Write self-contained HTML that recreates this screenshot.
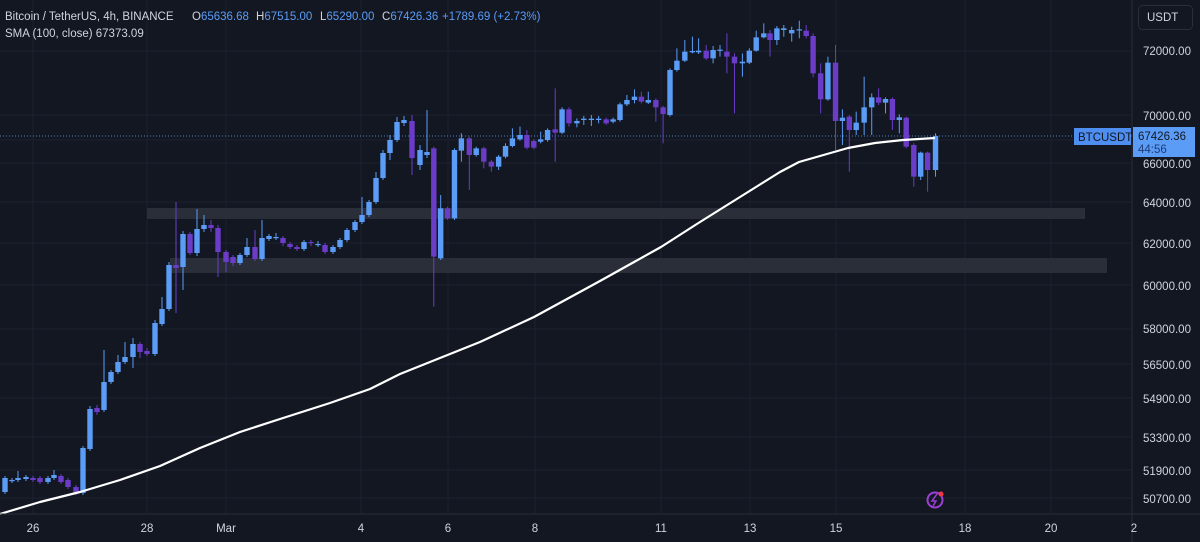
<!DOCTYPE html>
<html><head><meta charset="utf-8"><style>
html,body{margin:0;padding:0;background:#131722;}
body{width:1200px;height:542px;overflow:hidden;position:relative;font-family:"Liberation Sans",sans-serif;}
svg{position:absolute;left:0;top:0;}
</style></head><body>
<svg id="c" width="1200" height="542" xmlns="http://www.w3.org/2000/svg">
<rect width="1200" height="542" fill="#131722"/>
<g id="grid" stroke="#1c2030" stroke-width="1"></g>
<rect x="147" y="208" width="938" height="11" fill="#2a2e39"/>
<rect x="170" y="258" width="937" height="15" fill="#2a2e39"/>
<line x1="0" y1="136" x2="1132" y2="136" stroke="#5b9cf6" stroke-width="1" stroke-dasharray="1,2" opacity="0.8"/>
<g id="candles"></g>
<polyline id="sma" fill="none" stroke="#ffffff" stroke-width="2.2" stroke-linejoin="round"/>
<line x1="1132" y1="0" x2="1132" y2="542" stroke="#2a2e39"/>
<line x1="0" y1="514" x2="1200" y2="514" stroke="#2a2e39"/>
<g font-size="11.5" fill="#d1d4dc">
<text x="1143" y="55">72000.00</text>
<text x="1143" y="120">70000.00</text>
<text x="1143" y="145">68000.00</text>
<text x="1143" y="168">66000.00</text>
<text x="1143" y="207">64000.00</text>
<text x="1143" y="248">62000.00</text>
<text x="1143" y="290">60000.00</text>
<text x="1143" y="333">58000.00</text>
<text x="1143" y="369">56500.00</text>
<text x="1143" y="403">54900.00</text>
<text x="1143" y="442">53300.00</text>
<text x="1143" y="475">51900.00</text>
<text x="1143" y="503">50700.00</text>
</g>
<rect x="1074" y="128" width="57" height="17" fill="#4d8ef0"/>
<text x="1078" y="141" font-size="11.5" fill="#131722">BTCUSDT</text>
<rect x="1133" y="127" width="62" height="30" fill="#5b9cf6"/>
<text x="1138" y="140" font-size="11.5" fill="#131722">67426.36</text>
<text x="1138" y="153" font-size="11.5" fill="#1f3d7a">44:56</text>
<rect x="1138.5" y="5.5" width="54" height="24" rx="4" fill="none" stroke="#2a2e39"/>
<text x="1147" y="21" font-size="11.5" fill="#d1d4dc">USDT</text>
<g font-size="11.5" fill="#d1d4dc" text-anchor="middle">
<text x="33" y="532">26</text><text x="147" y="532">28</text><text x="226" y="532">Mar</text>
<text x="361" y="532">4</text><text x="448" y="532">6</text><text x="535" y="532">8</text>
<text x="661" y="532">11</text><text x="750" y="532">13</text><text x="836" y="532">15</text>
<text x="965" y="532">18</text><text x="1051" y="532">20</text><text x="1134" y="532">2</text>
</g>
<circle cx="935" cy="500" r="7.5" fill="none" stroke="#9c3fd6" stroke-width="2"/>
<path d="M937 494 L932 501 L936 501 L933 506" fill="none" stroke="#9c3fd6" stroke-width="1.5"/>
<circle cx="941" cy="494" r="2.5" fill="#f23645"/>
<g font-size="11.5">
<text x="5" y="20" fill="#d1d4dc">Bitcoin / TetherUS, 4h, BINANCE</text>
<text x="192" y="20" fill="#d1d4dc">O<tspan fill="#5b9cf6">65636.68</tspan></text>
<text x="256" y="20" fill="#d1d4dc">H<tspan fill="#5b9cf6">67515.00</tspan></text>
<text x="320" y="20" fill="#d1d4dc">L<tspan fill="#5b9cf6">65290.00</tspan></text>
<text x="382" y="20" fill="#d1d4dc">C<tspan fill="#5b9cf6">67426.36</tspan></text>
<text x="442" y="20" fill="#5b9cf6">+1789.69 (+2.73%)</text>
<text x="5" y="37" fill="#d1d4dc">SMA (100, close)  67373.09</text>
</g>
</svg>
<script>
var NS="http://www.w3.org/2000/svg";
var g=document.getElementById('grid');
[51,115,140,163,202,243,285,329,364,398,437,470,498].forEach(function(y){var l=document.createElementNS(NS,'line');l.setAttribute('x1',0);l.setAttribute('x2',1132);l.setAttribute('y1',y);l.setAttribute('y2',y);g.appendChild(l);});
[33,147,226,361,448,535,661,750,836,965,1051].forEach(function(x){var l=document.createElementNS(NS,'line');l.setAttribute('x1',x);l.setAttribute('x2',x);l.setAttribute('y1',0);l.setAttribute('y2',514);g.appendChild(l);});
// [x, top, bottom, wickTop, wickBot, up]
var C=[
[5,478,492,476,494,1],[12,480,481,478,483,1],[18,478,480,471,482,1],[26,477,479,475,481,1],[33,478,480,476,482,0],
[40,478,482,476,484,0],[48,478,482,476,484,1],[54,475,478,470,480,1],[61,476,482,474,484,0],[68,480,487,478,489,0],
[76,487,493,485,495,0],[83,448,493,446,495,1],[90,409,449,406,451,1],[97,408,412,405,415,0],[104,382,410,350,412,1],
[111,372,382,370,384,1],[118,362,372,355,374,1],[125,357,362,342,364,1],[133,344,357,338,368,1],[140,344,352,342,358,0],
[147,351,354,348,356,0],[155,323,354,320,356,1],[162,309,324,297,326,1],[169,265,309,262,311,1],[176,265,268,202,313,0],
[183,234,267,231,290,1],[190,234,253,232,255,0],[197,229,253,209,256,1],[204,225,229,215,232,1],[211,225,228,220,232,0],
[218,228,252,225,277,0],[226,252,262,250,272,0],[233,257,263,255,266,0],[240,255,263,253,265,1],[247,247,255,238,257,1],
[255,247,259,230,261,0],[262,238,259,220,261,1],[269,236,239,234,241,1],[276,237,238,233,240,1],[283,238,243,236,246,0],
[290,244,247,242,249,0],[297,247,249,245,251,0],[304,242,249,240,251,1],[311,242,243,240,246,0],[318,244,245,241,247,1],
[325,245,252,243,254,0],[333,247,252,245,254,1],[340,240,247,238,249,1],[347,230,240,228,242,1],[355,222,230,220,232,1],
[362,215,222,197,224,1],[369,202,215,200,217,1],[376,178,202,172,204,1],[383,153,178,150,180,1],[390,140,153,135,160,1],
[397,122,140,117,142,1],[404,120,123,116,126,1],[412,121,158,115,175,0],[420,150,165,145,170,1],[427,152,155,110,158,1]];
var Z=[[40,385,710,380,860,0],[60,565,715,525,720,1],[80,565,595,560,600,0],[100,390,595,385,600,1],[120,355,392,340,425,1],
[143,355,405,350,510,0],[163,385,405,380,410,1],[185,385,425,380,445,0],[207,425,440,420,455,0],[228,410,440,405,450,1],
[248,378,410,370,415,1],[268,355,378,325,382,1],[290,345,358,320,362,1],[310,345,383,330,388,0],[330,363,383,358,388,0],
[350,358,365,335,370,1],[370,330,360,325,365,1],[392,328,338,205,425,0],[412,268,338,262,342,1],[432,268,310,262,320,0],
[455,303,310,295,322,1],[475,296,300,288,315,1],[497,296,300,285,318,1],[518,296,300,288,310,1],[540,298,310,293,315,0],
[560,298,305,293,310,1],[580,253,300,248,305,1],[600,240,253,225,258,1],[622,230,240,208,250,1],[642,230,245,215,250,0],
[662,240,248,215,252,1],[684,240,262,235,305,0],[705,262,282,258,370,0],[725,150,285,145,290,1],[745,122,150,85,155,1],
[768,95,122,60,126,1],[790,93,97,50,100,1],[808,92,97,55,102,1],[830,92,115,75,120,0],[850,90,115,78,130,1],
[870,89,92,75,110,1],[890,95,110,40,160,0],[912,110,130,100,280,0],[935,125,130,100,170,1],[955,92,128,85,132,1],
[975,52,92,32,95,1],[997,40,52,10,55,1],[1015,40,60,30,110,0],[1035,25,60,18,75,1],[1055,25,30,15,50,1],
[1078,30,40,20,65,1],[1100,28,30,2,55,1],[1120,32,48,15,55,0],[1140,48,160,40,172,0],[1162,160,238,130,280,0],
[1183,128,238,110,242,1],[1205,128,303,75,390,0],[1225,293,303,268,375,1],[1245,290,330,285,455,0],[1265,308,330,275,345,1],
[1288,262,308,170,345,1],[1310,232,262,220,345,1],[1330,232,248,205,255,0],[1350,237,248,232,280,1],[1370,237,300,232,330,0],
[1390,292,300,283,340,1],[1410,293,380,290,385,0],[1432,375,470,370,500,0],[1452,398,470,395,480,1],[1472,398,450,395,515,0],
[1495,348,450,340,470,1]];
Z.forEach(function(z){C.push([420+z[0]/2.9,20+z[1]/3,20+z[2]/3,20+z[3]/3,20+z[4]/3,z[5]]);});
var cg=document.getElementById('candles');
C.forEach(function(c){var col=c[5]?'#5b9cf6':'#6a3cc8';
var w=document.createElementNS(NS,'line');w.setAttribute('x1',c[0]);w.setAttribute('x2',c[0]);w.setAttribute('y1',c[3]);w.setAttribute('y2',c[4]);w.setAttribute('stroke',col);w.setAttribute('stroke-width',1);cg.appendChild(w);
var r=document.createElementNS(NS,'rect');r.setAttribute('x',c[0]-2.7);r.setAttribute('width',5.4);r.setAttribute('y',c[1]);r.setAttribute('height',Math.max(1.2,c[2]-c[1]));r.setAttribute('fill',col);cg.appendChild(r);});
document.getElementById('sma').setAttribute('points',"0,514 40,502 80,492 120,480 160,466 200,448 240,432 280,419 330,403 370,389 400,374 430,362 480,342 534,317 600,281 661,247 700,222 740,197 780,172 799,162 820,156 848,148 875,143 903,140 935,138");
</script>
</body></html>
